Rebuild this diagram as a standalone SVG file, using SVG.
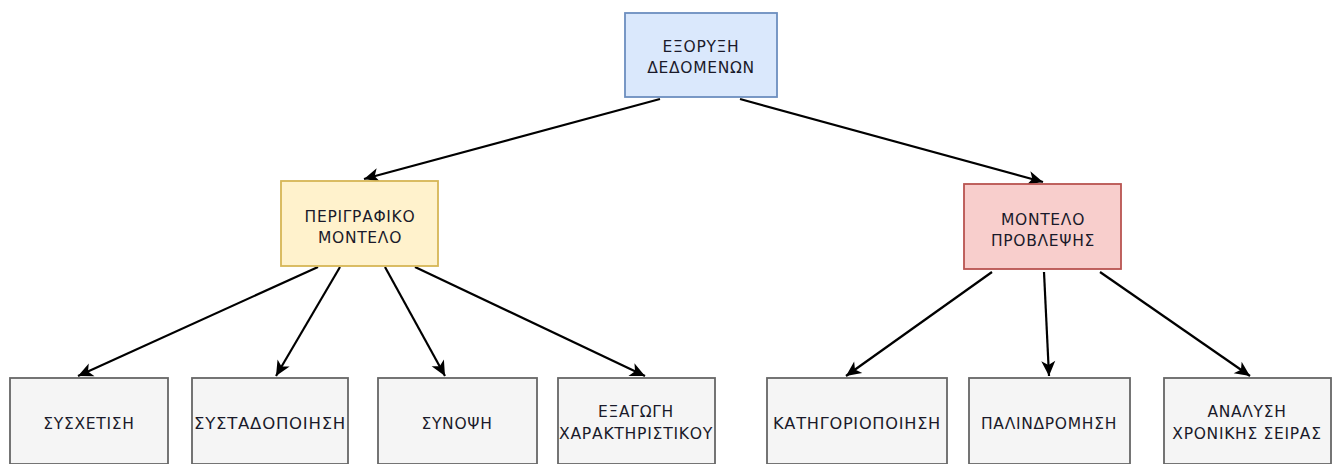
<svg xmlns="http://www.w3.org/2000/svg" width="1341" height="464" viewBox="0 0 1341 464">
<style>
.box{stroke-width:1.8}
.blue{fill:#dae8fc;stroke:#6c8ebf}
.yellow{fill:#fff2cc;stroke:#d6b656}
.pink{fill:#f8cecc;stroke:#b85450}
.gray{fill:#f5f5f5;stroke:#666666}
text{font-family:"DejaVu Sans","Liberation Sans",sans-serif;font-size:15.5px;letter-spacing:0.7px;fill:#1a1a2a;text-anchor:middle}
.edge{stroke:#000;stroke-width:2.2;fill:none;marker-end:url(#arr)}
</style>
<defs>
<marker id="arr" viewBox="-16 -8 18 16" refX="0" refY="0" markerWidth="18" markerHeight="16" markerUnits="userSpaceOnUse" orient="auto" overflow="visible">
<path d="M0,0 L-15,-7 L-11,0 L-15,7 Z" fill="#000"/>
</marker>
</defs>
<rect width="1341" height="464" fill="#fff"/>
<g id="connectors">
<line class="edge" x1="660" y1="99" x2="364" y2="179"/>
<line class="edge" x1="740" y1="99" x2="1043" y2="182"/>
<line class="edge" x1="318" y1="267" x2="78" y2="376"/>
<line class="edge" x1="340" y1="267" x2="276" y2="376"/>
<line class="edge" x1="385" y1="267" x2="445" y2="376"/>
<line class="edge" x1="415" y1="267" x2="645" y2="376"/>
<line class="edge" x1="992" y1="272" x2="846" y2="376"/>
<line class="edge" x1="1044" y1="272" x2="1049" y2="376"/>
<line class="edge" x1="1100" y1="272" x2="1250" y2="376"/>
</g>
<g id="root">
<rect class="box blue" x="625" y="13" width="152" height="84"/>
<text x="701" y="52">ΕΞΟΡΥΞΗ</text>
<text x="701" y="73">ΔΕΔΟΜΕΝΩΝ</text>
</g>
<g id="descriptive">
<rect class="box yellow" x="281" y="181" width="157" height="85"/>
<text x="360" y="222">ΠΕΡΙΓΡΑΦΙΚΟ</text>
<text x="360" y="243">ΜΟΝΤΕΛΟ</text>
</g>
<g id="predictive">
<rect class="box pink" x="964" y="184" width="157" height="85"/>
<text x="1043" y="225">ΜΟΝΤΕΛΟ</text>
<text x="1043" y="246">ΠΡΟΒΛΕΨΗΣ</text>
</g>
<g id="n1">
<rect class="box gray" x="10" y="378" width="158" height="86"/>
<text x="89" y="429">ΣΥΣΧΕΤΙΣΗ</text>
</g>
<g id="n2">
<rect class="box gray" x="192" y="378" width="156" height="86"/>
<text x="270" y="429" textLength="152" lengthAdjust="spacingAndGlyphs">ΣΥΣΤΑΔΟΠΟΙΗΣΗ</text>
</g>
<g id="n3">
<rect class="box gray" x="378" y="378" width="159" height="86"/>
<text x="457" y="429">ΣΥΝΟΨΗ</text>
</g>
<g id="n4">
<rect class="box gray" x="558" y="378" width="157" height="86"/>
<text x="636" y="417">ΕΞΑΓΩΓΗ</text>
<text x="636" y="439" textLength="154" lengthAdjust="spacingAndGlyphs">ΧΑΡΑΚΤΗΡΙΣΤΙΚΟΥ</text>
</g>
<g id="n5">
<rect class="box gray" x="767" y="378" width="180" height="86"/>
<text x="857" y="429" textLength="168" lengthAdjust="spacingAndGlyphs">ΚΑΤΗΓΟΡΙΟΠΟΙΗΣΗ</text>
</g>
<g id="n6">
<rect class="box gray" x="969" y="378" width="161" height="86"/>
<text x="1049" y="429">ΠΑΛΙΝΔΡΟΜΗΣΗ</text>
</g>
<g id="n7">
<rect class="box gray" x="1164" y="378" width="167" height="86"/>
<text x="1247" y="417">ΑΝΑΛΥΣΗ</text>
<text x="1247" y="439">ΧΡΟΝΙΚΗΣ ΣΕΙΡΑΣ</text>
</g>
</svg>
